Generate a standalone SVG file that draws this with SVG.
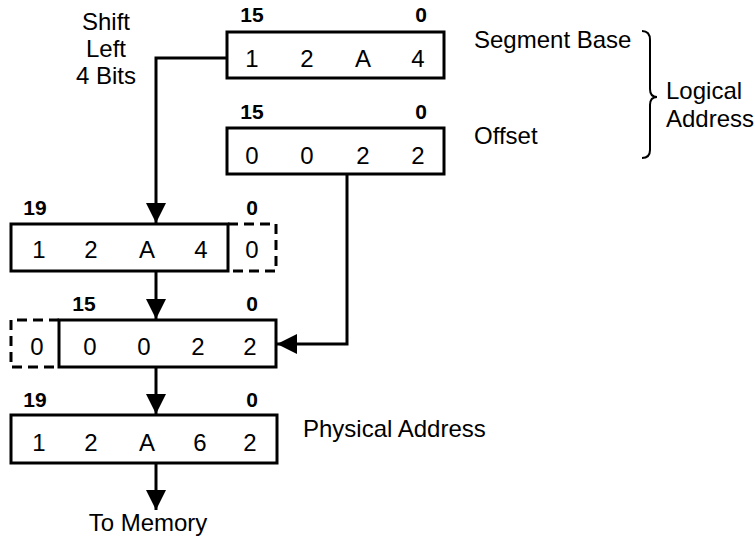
<svg xmlns="http://www.w3.org/2000/svg" width="755" height="540" viewBox="0 0 755 540">
<defs>
<style>
.box{fill:none;stroke:#000;stroke-width:3}
.dash{fill:none;stroke:#000;stroke-width:3;stroke-dasharray:10 6}
.t{font-family:"Liberation Sans",Arial,sans-serif;font-size:24px;fill:#000}
.d{font-family:"Liberation Sans",Arial,sans-serif;font-size:24px;fill:#000;text-anchor:middle}
.b{font-family:"Liberation Sans",Arial,sans-serif;font-size:21px;font-weight:bold;fill:#000;text-anchor:middle}
.c{fill:none;stroke:#000;stroke-width:3}
</style>
<marker id="ah" viewBox="0 0 20 20" refX="20" refY="10" markerWidth="20" markerHeight="20" markerUnits="userSpaceOnUse" orient="auto">
<path d="M0,0 L20,10 L0,20 Z" fill="#000"/>
</marker>
</defs>
<rect width="755" height="540" fill="#fff"/>

<g id="segment-base">
<rect class="box" x="227" y="32" width="217" height="46"/>
<text class="b" x="252" y="22">15</text>
<text class="b" x="421" y="22">0</text>
<text class="d" x="252" y="67">1</text>
<text class="d" x="307" y="67">2</text>
<text class="d" x="363" y="67">A</text>
<text class="d" x="418" y="67">4</text>
<text class="t" x="474" y="48">Segment Base</text>
</g>

<g id="offset">
<rect class="box" x="227" y="128" width="217" height="46"/>
<text class="b" x="252" y="119">15</text>
<text class="b" x="421" y="119">0</text>
<text class="d" x="252" y="164">0</text>
<text class="d" x="307" y="164">0</text>
<text class="d" x="363" y="164">2</text>
<text class="d" x="418" y="164">2</text>
<text class="t" x="474" y="144">Offset</text>
</g>

<g id="logical-address">
<path d="M642,31 Q650,31 650,40 L650,89 Q650,97 657,97 Q650,97 650,105 L650,150 Q650,158 642,158" fill="none" stroke="#000" stroke-width="2"/>
<text class="t" x="666" y="99">Logical</text>
<text class="t" x="666" y="127">Address</text>
</g>

<g id="shift-label">
<text class="d" x="106" y="30">Shift</text>
<text class="d" x="106" y="57">Left</text>
<text class="d" x="106" y="84">4 Bits</text>
</g>

<g id="shifted-base">
<rect class="box" x="11" y="224" width="217" height="47"/>
<path class="dash" d="M228,224 L276,224 L276,271 L228,271"/>
<text class="b" x="35" y="215">19</text>
<text class="b" x="252" y="215">0</text>
<text class="d" x="39" y="258">1</text>
<text class="d" x="91" y="258">2</text>
<text class="d" x="147" y="258">A</text>
<text class="d" x="201" y="258">4</text>
<text class="d" x="252" y="258">0</text>
</g>

<g id="extended-offset">
<rect class="box" x="59" y="320" width="217" height="47"/>
<path class="dash" d="M59,320 L11,320 L11,367 L59,367"/>
<text class="b" x="84" y="311">15</text>
<text class="b" x="252" y="311">0</text>
<text class="d" x="37" y="355">0</text>
<text class="d" x="90" y="355">0</text>
<text class="d" x="144" y="355">0</text>
<text class="d" x="198" y="355">2</text>
<text class="d" x="250" y="355">2</text>
</g>

<g id="physical-address">
<rect class="box" x="11" y="415" width="266" height="48"/>
<text class="b" x="35" y="407">19</text>
<text class="b" x="252" y="407">0</text>
<text class="d" x="39" y="451">1</text>
<text class="d" x="91" y="451">2</text>
<text class="d" x="147" y="451">A</text>
<text class="d" x="200" y="451">6</text>
<text class="d" x="250" y="451">2</text>
<text class="t" x="303" y="437">Physical Address</text>
</g>

<g id="to-memory">
<text class="d" x="148" y="531">To Memory</text>
</g>

<g id="connectors">
<path class="c" d="M227,58 L156,58 L156,223" marker-end="url(#ah)"/>
<path class="c" d="M347,174 L347,344 L277,344" marker-end="url(#ah)"/>
<path class="c" d="M156,271 L156,319" marker-end="url(#ah)"/>
<path class="c" d="M156,367 L156,414" marker-end="url(#ah)"/>
<path class="c" d="M156,463 L156,510" marker-end="url(#ah)"/>
</g>
</svg>
